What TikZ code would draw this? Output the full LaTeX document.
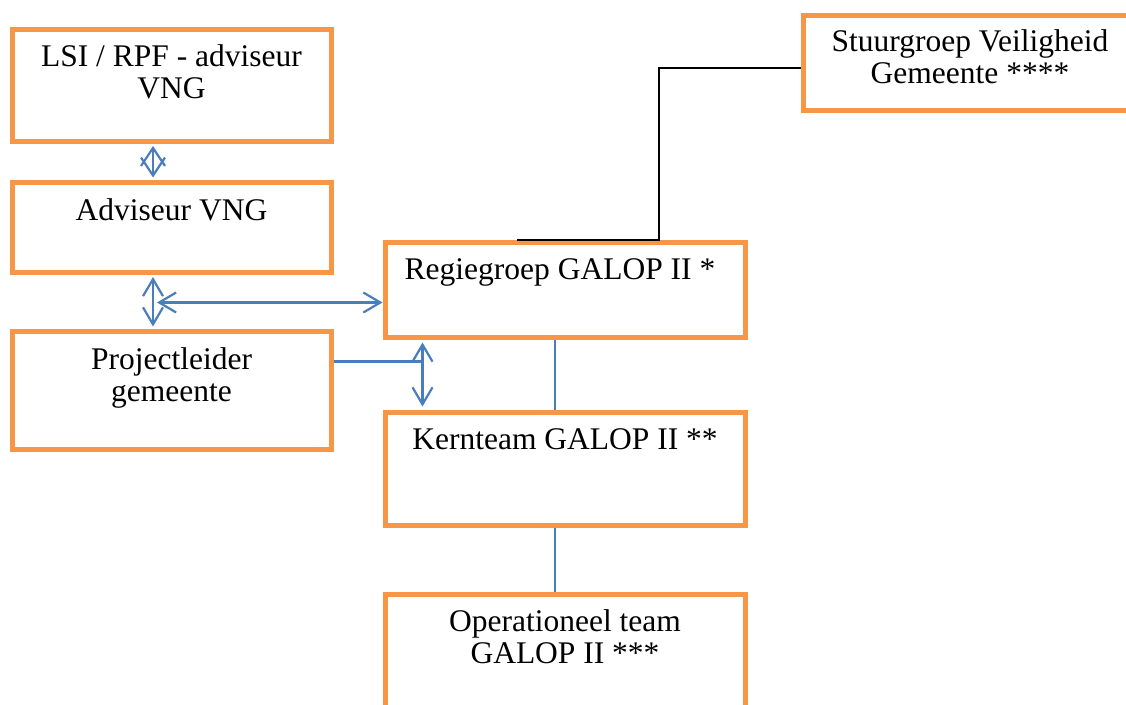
\documentclass[tikz,border=0pt]{standalone}
\usepackage{fontspec}
\setmainfont{Liberation Serif}
\usepackage{tikz}
\usetikzlibrary{arrows.meta, positioning, calc}

\definecolor{boxorange}{HTML}{F79646}
\definecolor{linkblue}{HTML}{4A7EBB}

\begin{document}
\begin{tikzpicture}[
    x=1pt, y=-1pt,
    block/.style={rectangle, draw=boxorange, line width=5pt, minimum width=319pt, inner sep=0pt},
    lbl/.style={align=center, anchor=base, inner sep=0pt, font=\fontsize{31.5}{32}\selectfont},
    link/.style={draw=linkblue, line width=2.2pt},
    dbl/.style={link, {Straight Barb[length=17pt,width=20pt]}-{Straight Barb[length=17pt,width=20pt]}},
    diam/.style={link, {Straight Barb[length=18pt,width=24pt]}-{Straight Barb[length=18pt,width=24pt]}}
]
    \clip (0,0) rectangle (1126,704);
    \useasboundingbox (0,0) rectangle (1126,704);

    % Blocks
    \node[block, minimum height=112pt] (lsi) at (171.5,85) {};
    \node[block, minimum height=90pt] (adv) at (171.5,227) {};
    \node[block, minimum height=118pt] (proj) at (171.5,390) {};
    \node[block, minimum width=360pt, minimum height=95pt] (regie) at (565,289.5) {};
    \node[block, minimum width=360pt, minimum height=113pt] (kern) at (565,468.5) {};
    \node[block, minimum width=360pt, minimum height=130pt] (oper) at (565,659) {};
    \node[block, minimum width=334pt, minimum height=95pt] (stuur) at (970,62.5) {};

    % Texts (base = last line)
    \node[lbl] (lsitxt) at ([yshift=-72pt]lsi.north) {LSI / RPF - adviseur\\VNG};
    \node[lbl] (advtxt) at ([yshift=-41pt]adv.north) {Adviseur VNG};
    \node[lbl] (projtxt) at ([yshift=-73pt]proj.north) {Projectleider\\gemeente};
    \node[lbl] (regietxt) at ([yshift=-40pt,xshift=-5pt]regie.north) {Regiegroep GALOP II *};
    \node[lbl] (kerntxt) at ([yshift=-40pt]kern.north) {Kernteam GALOP II **};
    \node[lbl] (opertxt) at ([yshift=-72pt]oper.north) {Operationeel team\\GALOP II ***};
    \node[lbl] (stuurtxt) at ([yshift=-71pt]stuur.north) {Stuurgroep Veiligheid\\Gemeente ****};

    % Arrows
    \draw[diam] ([xshift=-18.5pt,yshift=-2.5pt]lsi.south) -- ([xshift=-18.5pt,yshift=2pt]adv.north);
    \draw[dbl] ([xshift=-18.5pt,yshift=-2.5pt]adv.south) -- ([xshift=-18.5pt,yshift=2pt]proj.north);
    \coordinate (mid) at ($(adv.south)!0.5!(proj.north)+(-14.5,1)$);
    \draw[dbl] (mid) -- (mid -| regie.west);
    \coordinate (knee) at ($(regie.south west)+(40,0)$);
    \draw[link] ([yshift=-33pt]proj.north east) -- ([yshift=-33pt]proj.north east -| knee);
    \draw[dbl] ([yshift=-3pt]knee) -- ([yshift=3pt]kern.north west -| knee);
    \draw[link] ([xshift=-10pt]regie.south) -- ([xshift=-10pt]kern.north);
    \draw[link] ([xshift=-10pt]kern.south) -- ([xshift=-10pt]oper.north);

    % Stuurgroep line
    \coordinate (bend) at ($(regie.north)+(94,0)$);
    \draw[line width=2pt] ([xshift=-48pt]regie.north) -- (bend) |- ([yshift=-5.5pt]stuur.west);
\end{tikzpicture}
\end{document}
